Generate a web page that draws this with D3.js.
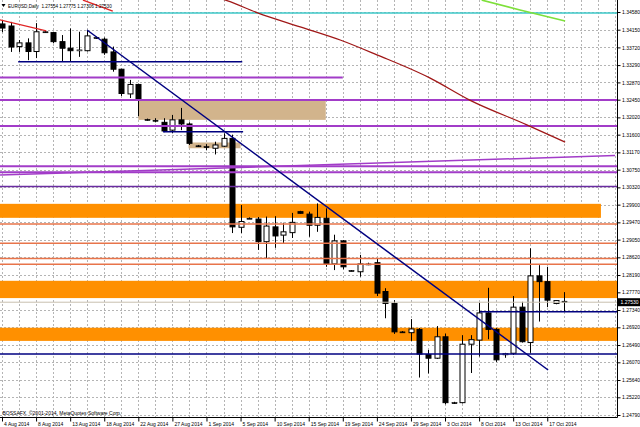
<!DOCTYPE html>
<html><head><meta charset="utf-8">
<script src="https://cdn.jsdelivr.net/npm/d3@7"></script>
<style>body{margin:0;background:#fff}svg{display:block}text{font-family:"Liberation Sans",Arial,sans-serif}</style>
</head><body><svg id="c" width="640" height="427"></svg>
<script>
// ---- data ----
const labelBars = [0,4,8,12,16,20,24,28,32,36,40,44,48,52,56,60,64];
const dateLabels = ["4 Aug 2014","8 Aug 2014","13 Aug 2014","18 Aug 2014","22 Aug 2014","27 Aug 2014","1 Sep 2014","5 Sep 2014","10 Sep 2014","15 Sep 2014","19 Sep 2014","24 Sep 2014","29 Sep 2014","3 Oct 2014","8 Oct 2014","13 Oct 2014","17 Oct 2014"];
const open  = [1.3429,1.3424,1.3374,1.3383,1.3362,1.3410,1.3408,1.3386,1.3370,1.3364,1.3364,1.3396,1.3392,1.3361,1.3319,1.3259,1.3282,1.3197,1.3195,1.3190,1.3171,1.3196,1.3186,1.3133,1.3131,1.3127,1.3132,1.3151,1.2935,1.2957,1.2955,1.2900,1.2936,1.2916,1.2922,1.2973,1.2967,1.2940,1.2957,1.2846,1.2902,1.2830,1.2827,1.2846,1.2849,1.2779,1.2750,1.2681,1.2679,1.2687,1.2626,1.2617,1.2669,1.2509,1.2509,1.2651,1.2661,1.2727,1.2687,1.2625,1.2629,1.2741,1.2655,1.2817,1.2803,1.2750,1.27554];
const high  = [1.3439,1.3434,1.3390,1.3394,1.3431,1.3412,1.3410,1.3402,1.3418,1.3410,1.3414,1.3398,1.3396,1.3374,1.3320,1.3293,1.3284,1.3199,1.3200,1.3200,1.3208,1.3225,1.3190,1.3135,1.3137,1.3143,1.3163,1.3160,1.2989,1.2959,1.2960,1.2961,1.2962,1.2946,1.2970,1.2975,1.2973,1.2993,1.2981,1.2917,1.2904,1.2831,1.2868,1.2849,1.2858,1.2787,1.2758,1.2683,1.2712,1.2690,1.2637,1.2695,1.2677,1.2511,1.2673,1.2673,1.2752,1.2788,1.2690,1.2630,1.2768,1.2754,1.2884,1.2843,1.2839,1.2758,1.27775];
const low   = [1.3409,1.3361,1.3361,1.3341,1.3346,1.3408,1.3382,1.3337,1.3337,1.3349,1.3362,1.3393,1.3354,1.3313,1.3254,1.3249,1.3205,1.3194,1.3190,1.3166,1.3164,1.3171,1.3135,1.3130,1.3122,1.3112,1.3130,1.2921,1.2921,1.2955,1.2880,1.2858,1.2885,1.2896,1.2909,1.2968,1.2912,1.2924,1.2839,1.2831,1.2833,1.2828,1.2815,1.2843,1.2768,1.2714,1.2676,1.2679,1.2659,1.2570,1.2580,1.2615,1.2505,1.2506,1.2507,1.2581,1.2621,1.2663,1.2608,1.2618,1.2625,1.2655,1.2630,1.2706,1.2741,1.2748,1.27306];
const close = [1.3419,1.3373,1.3383,1.3362,1.3410,1.3409,1.3386,1.3370,1.3364,1.3366,1.3400,1.3394,1.3359,1.3319,1.3260,1.3282,1.3244,1.3196,1.3194,1.3169,1.3196,1.3186,1.3139,1.3132,1.3130,1.3135,1.3151,1.2936,1.2949,1.2956,1.2900,1.2938,1.2914,1.2924,1.2947,1.2969,1.2940,1.2959,1.2847,1.2902,1.2839,1.2829,1.2846,1.2845,1.2775,1.2750,1.2681,1.2680,1.2688,1.2627,1.2617,1.2669,1.2509,1.2508,1.2651,1.2662,1.2727,1.2687,1.2613,1.2628,1.2741,1.2657,1.2817,1.2803,1.2758,1.2757,1.27530];
const priceTicks = [1.34580,1.34150,1.33720,1.33290,1.32870,1.32450,1.32020,1.31600,1.31170,1.30750,1.30320,1.29900,1.29470,1.29050,1.28620,1.28190,1.27770,1.27340,1.26920,1.26490,1.26070,1.25640,1.25220,1.24790];
const lastPrice = 1.27530;
const headerText = "EURUSD,Daily  1.27554 1.27775 1.27306 1.27530";
const copyright = "BOSSAFX, \u00a92001-2014, MetaQuotes Software Corp.";
// zones: [fromBar, toBar (null = to edge), priceTop, priceBottom]
const orangeZones = [[-1,70.3,1.2992,1.2958],[-1,null,1.2805,1.2763],[-1,null,1.2691,1.2659]];
const tanZones = [[16,38,1.3244,1.3196],[21.9,28,1.3141,1.3127]];
// horizontal levels: [fromBar, toBar, price]
const purpleLevels = [[-1,40,1.3299],[-1,null,1.3244],[-1,null,1.3181],[-1,null,1.3083],[-1,null,1.3069]];
const violetLevels = [[-1,null,1.3034]];
const salmonLevels = [[-1,null,1.2943],[-1,null,1.2896],[-1,null,1.2859],[-1,null,1.2845]];
const navyLevels = [[1.9,28.2,1.3337],[18.9,28.3,1.3167],[56.1,null,1.2730],[-1,null,1.2627]];
const cyanLevels = [[-1,null,1.34556]];
// trend lines: bars and prices
const navyTrendBars = [9.98,64.1], navyTrendVals = [1.34143,1.25883];
const purpleTrendBars = [-0.23,71.96], purpleTrendVals = [1.30620,1.31094];
const maBars = [25.8,26.5,30,35,39.7,44,50.2,54.9,61.6,66.1];
const maVals = [1.3490,1.3485,1.3456,1.3422,1.3390,1.3354,1.3298,1.3244,1.3184,1.3142];
const greenBars = [56.3,60.8,66.1], greenVals = [1.3487,1.3463,1.3436];
const redA_Bars = [-0.3,5.2], redA_Vals = [1.3439,1.3412];
const redB_Bars = [9.5,13.0], redB_Vals = [1.3487,1.3460];

// ---- layout ----
const W = 640, H = 427, PR = 617, PB = 417;
const x = d3.scaleLinear().domain([0,66]).range([2,564.3]);
const y = d3.scaleLinear().domain([1.24790,1.34580]).range([415,12]);
const svg = d3.select("#c");
svg.append("rect").attr("width",W).attr("height",H).attr("fill","#fff");
svg.append("defs").append("clipPath").attr("id","clip").append("rect").attr("x",0).attr("y",0).attr("width",PR).attr("height",PB);
const plot = svg.append("g").attr("clip-path","url(#clip)");

// grid
const gridBars = d3.range(0,74,2).filter(b=>x(b)<PR);
plot.append("g").selectAll("line").data(gridBars).join("line")
  .attr("x1",d=>Math.round(x(d))+0.5).attr("x2",d=>Math.round(x(d))+0.5).attr("y1",0).attr("y2",PB)
  .attr("stroke","#b4b4b4").attr("stroke-dasharray","2,2").attr("stroke-width",1);
plot.append("g").selectAll("line").data(priceTicks).join("line")
  .attr("x1",0).attr("x2",PR).attr("y1",d=>Math.round(y(d))+0.5).attr("y2",d=>Math.round(y(d))+0.5)
  .attr("stroke","#b4b4b4").attr("stroke-dasharray","2,2").attr("stroke-width",1);

const xe = b => b===null ? PR+2 : x(b);
function zones(data,color){
  plot.append("g").selectAll("rect").data(data).join("rect")
    .attr("x",d=>xe(d[0])).attr("width",d=>xe(d[1])-xe(d[0]))
    .attr("y",d=>y(d[2])).attr("height",d=>y(d[3])-y(d[2])).attr("fill",color);
}
zones(orangeZones,"#ff9000");
zones(tanZones,"#d2b48c");

// candles
const bars = open.map((o,i)=>({i,o,h:high[i],l:low[i],c:close[i]}));
const cg = plot.append("g");
cg.selectAll("line.w").data(bars).join("line").attr("class","w")
  .attr("x1",d=>Math.round(x(d.i))+0.5).attr("x2",d=>Math.round(x(d.i))+0.5)
  .attr("y1",d=>y(d.h)).attr("y2",d=>y(d.l)).attr("stroke","#000").attr("stroke-width",1);
cg.selectAll("rect.b").data(bars).join("rect").attr("class","b")
  .attr("x",d=>Math.round(x(d.i))-2).attr("width",5)
  .attr("y",d=>y(Math.max(d.o,d.c))).attr("height",d=>Math.max(1,Math.abs(y(d.o)-y(d.c))))
  .attr("fill",d=>d.c<d.o?"#000":"#fff").attr("stroke","#000").attr("stroke-width",d=>Math.abs(y(d.o)-y(d.c))<1.5?0.6:1);

// price line
plot.append("line").attr("x1",0).attr("x2",PR).attr("y1",y(lastPrice)).attr("y2",y(lastPrice))
  .attr("stroke","#c8bfae").attr("stroke-width",1);

function levels(data,color,w){
  plot.append("g").selectAll("line").data(data).join("line")
    .attr("x1",d=>xe(d[0])).attr("x2",d=>xe(d[1])).attr("y1",d=>y(d[2])).attr("y2",d=>y(d[2]))
    .attr("stroke",color).attr("stroke-width",w);
}
levels(cyanLevels,"#3cc8c8",1.5);
levels(purpleLevels,"#a23cc8",2);
levels(violetLevels,"#6a2ca0",1.5);
levels(salmonLevels,"#e8744a",1.5);
levels(navyLevels,"#000080",1.5);

function path(bs,vs,color,w,curve){
  const pts = bs.map((b,k)=>[x(b),y(vs[k])]);
  plot.append("path").attr("d",d3.line().curve(curve||d3.curveLinear)(pts))
    .attr("fill","none").attr("stroke",color).attr("stroke-width",w);
}
path(purpleTrendBars,purpleTrendVals,"#a23cc8",1.5);
path(navyTrendBars,navyTrendVals,"#000080",1.5);
path(maBars,maVals,"#a01818",1.3,d3.curveMonotoneX);
path(greenBars,greenVals,"#7ee03a",1.6,d3.curveMonotoneX);
path(redA_Bars,redA_Vals,"#e02424",1.3);
path(redB_Bars,redB_Vals,"#e02424",1.3);

// borders
svg.append("line").attr("x1",PR+0.5).attr("x2",PR+0.5).attr("y1",0).attr("y2",PB+0.5).attr("stroke","#000");
svg.append("line").attr("x1",0).attr("x2",PR+0.5).attr("y1",PB+0.5).attr("y2",PB+0.5).attr("stroke","#000");

// y axis
const ya = svg.append("g").attr("transform",`translate(${PR+0.5},0)`)
  .call(d3.axisRight(y).tickValues(priceTicks).tickFormat(d3.format(".5f")).tickSize(3).tickPadding(1.5));
ya.select(".domain").remove();
ya.selectAll("text").attr("font-size",5).attr("fill","#000").style("font-family","Liberation Sans, Arial, sans-serif");
ya.selectAll("line").attr("stroke","#000");

// x axis
const xa = svg.append("g").attr("transform",`translate(0,${PB+0.5})`)
  .call(d3.axisBottom(x).tickValues(labelBars).tickFormat((d,k)=>dateLabels[k]).tickSize(4).tickPadding(1));
xa.select(".domain").remove();
xa.selectAll("text").attr("font-size",5).attr("fill","#000").attr("text-anchor","start").attr("dx",1.5).attr("dy","0.6em")
  .style("font-family","Liberation Sans, Arial, sans-serif");
xa.selectAll("line").attr("stroke","#000");

// last price tag
const ly = y(lastPrice);
svg.append("rect").attr("x",PR+1).attr("y",ly-4).attr("width",W-PR-1).attr("height",8).attr("fill","#000");
svg.append("text").attr("x",PR+3.5).attr("y",ly+1.8).attr("font-size",5).attr("fill","#fff").text(d3.format(".5f")(lastPrice));

// header
svg.append("path").attr("d","M1.5,4 L5.5,4 L3.5,7 Z").attr("fill","#000");
svg.append("text").attr("x",8).attr("y",7.5).attr("font-size",4.6).attr("fill","#000").attr("xml:space","preserve").text(headerText);
svg.append("text").attr("x",2.5).attr("y",414.5).attr("font-size",5).attr("fill","#000").text(copyright);
</script></body></html>
